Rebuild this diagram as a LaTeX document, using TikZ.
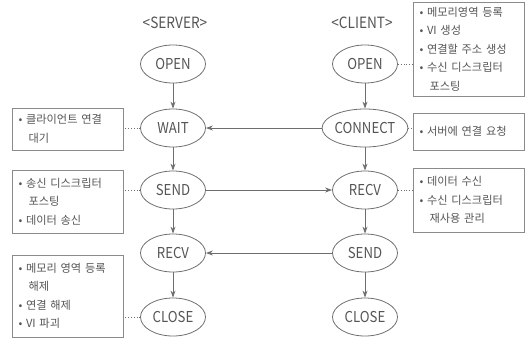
\documentclass[tikz,border=0pt]{standalone}
\usepackage{fontspec}
\usetikzlibrary{arrows.meta,shapes.geometric}
\newfontfamily\kr[FakeStretch=0.88]{Noto Sans CJK KR}
\newfontfamily\krbox{Noto Sans CJK KR}
\definecolor{ink}{HTML}{555555}
\definecolor{edge}{HTML}{6E6E6E}
\newcommand{\ind}{\hspace*{0.9em}}
\begin{document}
\begin{tikzpicture}[x=1pt,y=-1pt,
  state/.style={ellipse,draw=edge,line width=0.8pt,minimum width=65pt,minimum height=38pt,
    inner sep=0pt,text=ink,font=\kr\fontsize{15}{15}\selectfont},
  head/.style={text=ink,font=\kr\fontsize{15.5}{16}\selectfont},
  note/.style={rectangle,draw=edge!80,line width=0.9pt,text=ink,align=left,
    text width=98pt,inner xsep=6.5pt,inner ysep=0pt,
    font=\krbox\fontsize{11.2}{18.5}\selectfont},
  flow/.style={draw=edge,line width=0.8pt,-{Stealth[length=7pt,width=5pt]}},
  link/.style={draw=edge,line width=0.8pt,dotted}]
\useasboundingbox (0,0) rectangle (527,341);

% column titles
\node[head] (hs) at (175,23) {<SERVER>};
\node[head] (hc) at (362,23) {<CLIENT>};

% server states
\node[state] (sopen)  at (173,64)  {OPEN};
\node[state] (swait)  at (173,128) {WAIT};
\node[state] (ssend)  at (173,190) {SEND};
\node[state] (srecv)  at (173,253) {RECV};
\node[state] (sclose) at (173,317) {CLOSE};

% client states
\node[state] (copen)  at (365,64)  {OPEN};
\node[state] (cconn)  at (365,128) {CONNECT};
\node[state] (crecv)  at (365,190) {RECV};
\node[state] (csend)  at (365,253) {SEND};
\node[state] (cclose) at (365,317) {CLOSE};

% notes on the server side
\node[note,minimum height=42pt] (n1) at (67.5,129)
  {• 클라이언트 연결\\\ind 대기};
\node[note,minimum height=63pt] (n2) at (67.5,201.5)
  {• 송신 디스크립터\\\ind 포스팅\\• 데이터 송신};
\node[note,minimum height=82pt] (n3) at (67.5,296)
  {• 메모리 영역 등록\\\ind 해제\\• 연결 해제\\• VI 파괴};

% notes on the client side
\node[note,minimum height=94pt] (m1) at (468.5,49)
  {• 메모리영역 등록\\• VI 생성\\• 연결할 주소 생성\\• 수신 디스크립터\\\ind 포스팅};
\node[note,minimum height=37pt] (m2) at (468.5,131.5)
  {• 서버에 연결 요청};
\node[note,minimum height=64pt] (m3) at (468.5,200)
  {• 데이터 수신\\• 수신 디스크립터\\\ind 재사용 관리};

% state sequence
\draw[flow] (sopen) -- (swait);
\draw[flow] (swait) -- (ssend);
\draw[flow] (ssend) -- (srecv);
\draw[flow] (srecv) -- (sclose);
\draw[flow] (copen) -- (cconn);
\draw[flow] (cconn) -- (crecv);
\draw[flow] (crecv) -- (csend);
\draw[flow] (csend) -- (cclose);

% messages between the two sides
\draw[flow] (cconn.west) -- (swait.east);
\draw[flow] (ssend.east) -- (crecv.west);
\draw[flow] (csend.west) -- (srecv.east);

% notes attached to states
\draw[link] (swait.west) -- (swait.west -| n1.east);
\draw[link] (ssend.west) -- (ssend.west -| n2.east);
\draw[link] (sclose.west) -- (sclose.west -| n3.east);
\draw[link] (copen.east) -- (copen.east -| m1.west);
\draw[link] (cconn.east) -- (cconn.east -| m2.west);
\draw[link] (crecv.east) -- (crecv.east -| m3.west);
\end{tikzpicture}
\end{document}
